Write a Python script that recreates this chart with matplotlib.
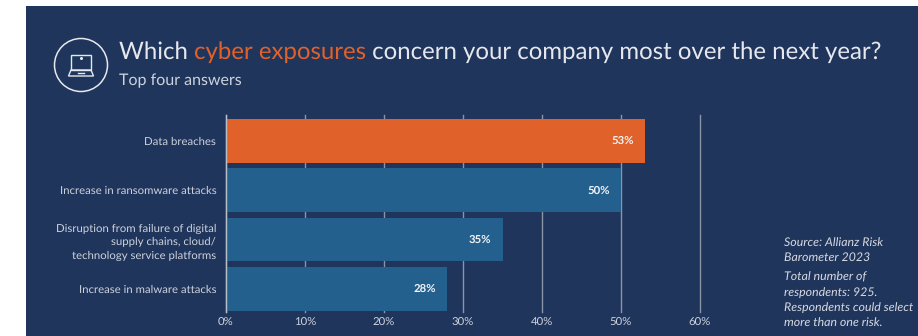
import matplotlib
matplotlib.use("Agg")
import matplotlib.pyplot as plt
from matplotlib.patches import Circle, Rectangle, Polygon

plt.rcParams['font.family'] = ['Lato', 'DejaVu Sans']
plt.rcParams['text.hinting'] = 'none'

categories = [
    "Data breaches",
    "Increase in ransomware attacks",
    "Disruption from failure of digital\nsupply chains, cloud/\ntechnology service platforms",
    "Increase in malware attacks",
]
values = [53, 50, 35, 28]
bar_colors = ["#e0622a", "#23608e", "#23608e", "#23608e"]
x_ticks = [0, 10, 20, 30, 40, 50, 60]

W, H = 918, 336
NAVY = "#20355c"
ORANGE = "#e0622a"
LIGHT = "#e6e8ee"
GREY = "#cdd2dc"

fig = plt.figure(figsize=(W / 100, H / 100), dpi=100, facecolor="white")

# overlay in pixel coordinates, y pointing down
bg = fig.add_axes([0, 0, 1, 1])
bg.set_xlim(0, W)
bg.set_ylim(H, 0)
bg.axis("off")
bg.add_patch(Rectangle((26, 6), W - 26, H - 6, facecolor=NAVY, edgecolor="none"))

# laptop icon
bg.add_patch(Circle((81, 65), 26.5, fill=False, edgecolor=LIGHT, linewidth=1.1))
bg.add_patch(Rectangle((71, 55), 20, 15, fill=False, edgecolor=LIGHT, linewidth=1.0))
bg.add_patch(Polygon([(71, 70), (91, 70), (93.5, 76), (68.5, 76)], closed=True,
                     fill=False, edgecolor=LIGHT, linewidth=1.0))
bg.plot([78, 84], [73.3, 73.3], color=LIGHT, lw=1.0)
bg.plot([81], [57.5], marker="o", ms=1.2, color=LIGHT)

# title, one run of text per colour
title_parts = [("Which ", LIGHT), ("cyber exposures", ORANGE),
               (" concern your company most over the next year?", LIGHT)]
renderer = fig.canvas.get_renderer()
x_pos = 119
for part, col in title_parts:
    t = bg.text(x_pos, 59, part.replace(" ", "\u00a0"), color=col, fontsize=17.25, va="baseline", ha="left")
    x_pos = bg.transData.inverted().transform(t.get_window_extent(renderer))[1][0]

bg.text(119, 85, "Top four answers", color=GREY, fontsize=11.5, va="baseline", ha="left")

# chart area spans 0-60% across x=226..700, gridlines y=115..312
ax = fig.add_axes([226 / W, (H - 312) / H, (700 - 226) / W, (312 - 115) / H])
ax.patch.set_alpha(0)
pos = list(range(len(categories)))
ax.set_xlim(0, 60)
ax.set_ylim(3.47, -0.528)
ax.set_axisbelow(True)
ax.xaxis.grid(True, color="#8a95a8", linewidth=1.0)
ax.yaxis.grid(False)
for side in ax.spines:
    ax.spines[side].set_visible(False)

bars = ax.barh(pos, values, height=0.885, color=bar_colors, zorder=2)
ax.axvline(0, color="#b8bfcc", linewidth=1.0, zorder=3, clip_on=False)

for y, v in zip(pos, values):
    ax.annotate(f"{v}%", xy=(v, y), xytext=(-8, 0), textcoords="offset points",
                ha="right", va="center", color="#f2f3f5", fontsize=8.2, fontweight="bold", zorder=4)

ax.set_yticks(pos)
ax.set_yticklabels(categories, color=GREY, fontsize=8.2, linespacing=1.42)
ax.set_xticks(x_ticks)
ax.set_xticklabels([f"{t}%" for t in x_ticks], color=GREY, fontsize=8.2)
ax.tick_params(axis="y", length=0, pad=7)
ax.tick_params(axis="x", length=0, pad=4.5)
for gl in ax.get_xgridlines():
    gl.set_clip_on(False)

# source note
note_color = "#d5d9e1"
for y, line in [(246, "Source: Allianz Risk"), (261, "Barometer 2023"),
                (281, "Total number of"), (296, "respondents: 925."),
                (311, "Respondents could select"), (326, "more than one risk.")]:
    bg.text(784.5, y, line, color=note_color, fontsize=8.9, style="italic", va="baseline", ha="left")

fig.savefig("out.png", dpi=100, facecolor=fig.get_facecolor())
